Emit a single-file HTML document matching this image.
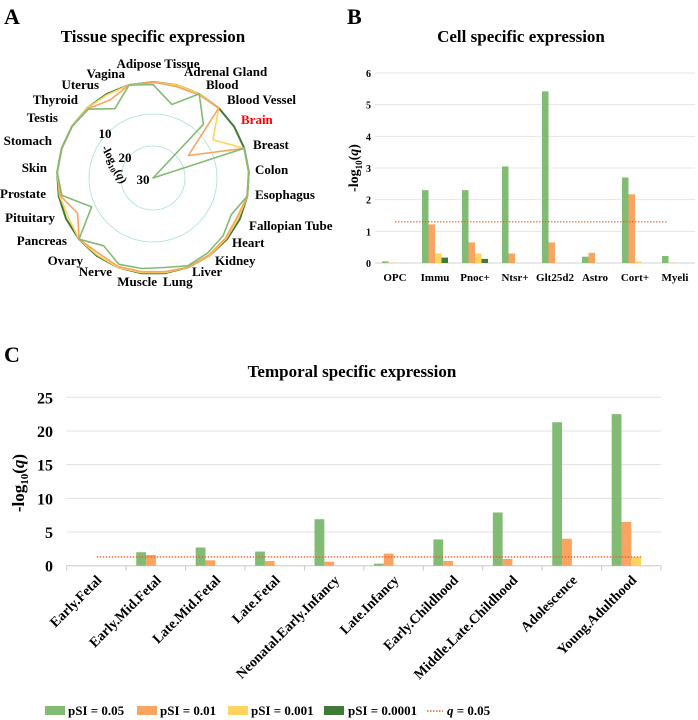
<!DOCTYPE html>
<html><head><meta charset="utf-8"><style>
html,body{margin:0;padding:0;background:#fff;}
svg{display:block;font-family:"Liberation Serif",serif;font-weight:bold;}
</style></head><body>
<svg id="fig" width="698" height="720" viewBox="0 0 698 720">
<text x="4" y="24" font-size="22">A</text>
<text x="347" y="24" font-size="22">B</text>
<text x="4" y="362" font-size="22">C</text>
<text x="153" y="42" font-size="17" text-anchor="middle">Tissue specific expression</text>
<text x="521" y="42" font-size="17" text-anchor="middle">Cell specific expression</text>
<text x="352" y="377" font-size="17" text-anchor="middle">Temporal specific expression</text>
<g id="radar"></g>
<g id="chartB"></g>
<g id="chartC"></g>
<g id="legend">
<rect x="45" y="706" width="20" height="9" fill="#82bb73"/>
<text x="68" y="715" font-size="13">pSI = 0.05</text>
<rect x="137" y="706" width="20" height="9" fill="#f9a461"/>
<text x="160" y="715" font-size="13">pSI = 0.01</text>
<rect x="228" y="706" width="20" height="9" fill="#fed45e"/>
<text x="251" y="715" font-size="13">pSI = 0.001</text>
<rect x="324" y="706" width="20" height="9" fill="#3f7a37"/>
<text x="348" y="715" font-size="13">pSI = 0.0001</text>
<line x1="427" y1="711" x2="443" y2="711" stroke="#e8632a" stroke-width="1.5" stroke-dasharray="1.5,1.5"/>
<text x="447" y="715" font-size="13"><tspan font-style="italic">q</tspan> = 0.05</text>
</g>
</svg>
<script>
var NS="http://www.w3.org/2000/svg";
function mk(parent,tag,attrs,txt){var e=document.createElementNS(NS,tag);for(var k in attrs)e.setAttribute(k,attrs[k]);if(txt!==undefined)e.textContent=txt;parent.appendChild(e);return e;}
var colors=["#82bb73","#f9a461","#fed45e","#3f7a37"];

// ---- Radar data ----
var tissues=["Adipose Tissue","Adrenal Gland","Blood","Blood Vessel","Brain","Breast","Colon","Esophagus","Fallopian Tube","Heart","Kidney","Liver","Lung","Muscle","Nerve","Ovary","Pancreas","Pituitary","Prostate","Skin","Stomach","Testis","Thyroid","Uterus","Vagina"];
var radarP05=[0.8,6.3,0,7,30,0,0,0,3,1.6,1,0.5,1.8,1.5,1,3.8,0,8.8,1,0,0,0,0.5,5.3,0];
var radarP01=[0,0.5,0.3,0,16.9,0,0,0,1,0.6,0.3,0,0.5,0.5,0.3,1,0,4,0.5,0,0,0,0.3,2.2,0];
var radarP001=[0,0,0,0,7.8,0,0,0,0.5,0.3,0,0,0.2,0.2,0,0.3,0,0.8,0.3,0,0,0,0,0.3,0];
var radarP0001=[0,0,0,0,0,0,0,0,0,0,0,0,0,0,0,0,0,0,0,0,0,0,0,0,0];
var radarTicks=[10,20,30];

(function(){
 var g=document.getElementById('radar');
 var cx=153,cy=178,R=96,vmax=30;
 function rad(v){return R*(vmax-v)/vmax;}
 function pt(i,v){var a=i*2*Math.PI/tissues.length;var r=rad(v);return [cx+r*Math.sin(a),cy-r*Math.cos(a)];}
 [20,10].forEach(function(t){var c=mk(g,'circle',{cx:cx,cy:cy,r:rad(t),fill:'none',stroke:'#a8e0d4','stroke-width':0.8});
  
  });
 var c0=mk(g,'circle',{cx:cx,cy:cy,r:R,fill:'none',stroke:'#a8e0d4','stroke-width':0.8});
 
 
 var tpos=[[105,138],[125,162],[143,184]];
 radarTicks.forEach(function(t,k){var e=mk(g,'text',{x:tpos[k][0],y:tpos[k][1],'font-size':13,'text-anchor':'middle'},String(t));
  
  });
 var at=mk(g,'text',{x:0,y:0,'font-size':12,'text-anchor':'middle',transform:'translate(111,166) rotate(62)'},'-log');
 mk(at,'tspan',{'font-size':8,dy:3},'10');
 mk(at,'tspan',{dy:-3},'(');mk(at,'tspan',{'font-style':'italic'},'q');mk(at,'tspan',{},')');
 
 
 var series=[radarP0001,radarP001,radarP01,radarP05];var sc=[colors[3],colors[2],colors[1],colors[0]];
 var names=['radar-series-pSI-00001','radar-series-pSI-0001','radar-series-pSI-001','radar-series-pSI-005'];
 series.forEach(function(s,k){var d=s.map(function(v,i){var p=pt(i,v);return p[0].toFixed(1)+','+p[1].toFixed(1);}).join(' ');
  var pl=mk(g,'polygon',{points:d,fill:'none',stroke:sc[k],'stroke-width':k==0?2:1.6,'stroke-linejoin':'round'});
  
  });
 // label layout (x, baseline, anchor)
 var labelLayout=[[158,68,'middle'],[184,76,'start'],[206,89,'start'],[227,104,'start'],[241,124,'start'],[253,149,'start'],[255,174,'start'],[255,199,'start'],[249,230,'start'],[232,247,'start'],[215,265,'start'],[192,276,'start'],[163,286,'start'],[157,286,'end'],[112,276,'end'],[83,265,'end'],[67,245,'end'],[55,222,'end'],[46,198,'end'],[47,172,'end'],[52,145,'end'],[58,122,'end'],[78,104,'end'],[99,89,'end'],[125,78,'end']];
 tissues.forEach(function(t,i){var L=labelLayout[i];
  var e=mk(g,'text',{x:L[0],y:L[1],'font-size':13,'text-anchor':L[2],fill:t=='Brain'?'#ff0000':'#000'},t);
  
  });
})();

// ---- Chart B data ----
var cellCats=["OPC","Immu","Pnoc+","Ntsr+","Glt25d2","Astro","Cort+","Myeli"];
var cellP05=[0.05,2.3,2.3,3.05,5.42,0.2,2.7,0.22];
var cellP01=[0.01,1.22,0.65,0.3,0.65,0.32,2.17,0.01];
var cellP001=[0,0.3,0.3,0,0,0,0.05,0];
var cellP0001=[0,0.17,0.13,0,0,0,0,0];
var cellTicks=[0,1,2,3,4,5,6];
var cellThreshold=1.3;

(function(){
 var g=document.getElementById('chartB');
 var x0=375,w=320,y0=263,ymax=6,ph=190;
 function Y(v){return y0-v/ymax*ph;}
 var cw=w/cellCats.length,bw=6.5;
 cellTicks.forEach(function(t){var l=mk(g,'line',{x1:x0,x2:x0+w,y1:Y(t),y2:Y(t),stroke:t==0?'#d0d0d0':'#e4e4e4','stroke-width':1});
  
  
  var e=mk(g,'text',{x:371,y:Y(t)+4,'font-size':10,'text-anchor':'end'},String(t));
  
  });
 var series=[cellP05,cellP01,cellP001,cellP0001];
 series.forEach(function(s,k){s.forEach(function(v,i){if(v<=0)return;var cx=x0+cw*(i+0.5);var x=cx-2*bw+k*bw;
  var r=mk(g,'rect',{x:x,y:Y(v),width:bw,height:y0-Y(v),fill:colors[k]});
  
  });});
 cellCats.forEach(function(c,i){var e=mk(g,'text',{x:x0+cw*(i+0.5),y:281,'font-size':11,'text-anchor':'middle'},c);
  
  });
 var q=mk(g,'line',{x1:x0+20,x2:x0+w-27,y1:Y(cellThreshold),y2:Y(cellThreshold),stroke:'#e8632a','stroke-width':1.2,'stroke-dasharray':'1.5,1.5'});
 
 
 var at=mk(g,'text',{x:0,y:0,'font-size':14,'text-anchor':'middle',transform:'translate(358,168) rotate(-90)'},'-log');
 mk(at,'tspan',{'font-size':9,dy:4},'10');mk(at,'tspan',{dy:-4},'(');mk(at,'tspan',{'font-style':'italic'},'q');mk(at,'tspan',{},')');
 
 
})();

// ---- Chart C data ----
var stages=["Early.Fetal","Early.Mid.Fetal","Late.Mid.Fetal","Late.Fetal","Neonatal.Early.Infancy","Late.Infancy","Early.Childhood","Middle.Late.Childhood","Adolescence","Young.Adulthood"];
var stageP05=[0,2.0,2.7,2.1,6.9,0.3,3.9,7.9,21.3,22.5];
var stageP01=[0,1.6,0.8,0.7,0.6,1.8,0.7,1.0,4.0,6.5];
var stageP001=[0,0,0,0,0,0,0,0,0,1.3];
var stageP0001=[0,0,0,0,0,0,0,0,0,0];
var stageTicks=[0,5,10,15,20,25];
var stageThreshold=1.3;

(function(){
 var g=document.getElementById('chartC');
 var x0=66.7,w=594.3,y0=565.7,ymax=25,ph=168.4;
 function Y(v){return y0-v/ymax*ph;}
 var cw=w/stages.length,bw=9.8;
 stageTicks.forEach(function(t){var l=mk(g,'line',{x1:x0,x2:x0+w,y1:Y(t),y2:Y(t),stroke:t==0?'#c8c8c8':'#e0e0e0','stroke-width':1});
  
  
  var e=mk(g,'text',{x:53,y:Y(t)+6,'font-size':16,'text-anchor':'end'},String(t));
  
  });
 for(var i=0;i<=stages.length;i++){var tk=mk(g,'line',{x1:x0+cw*i,x2:x0+cw*i,y1:y0,y2:y0+5,stroke:'#c8c8c8','stroke-width':1});
  
  }
 var series=[stageP05,stageP01,stageP001,stageP0001];
 series.forEach(function(s,k){s.forEach(function(v,i){if(v<=0)return;var cx=x0+cw*(i+0.5);var x=cx-2*bw+k*bw;
  var r=mk(g,'rect',{x:x,y:Y(v),width:bw,height:y0-Y(v),fill:colors[k]});
  
  });});
 stages.forEach(function(c,i){var x=x0+cw*(i+0.5)+6,y=581;
  var e=mk(g,'text',{x:0,y:0,'font-size':14,'text-anchor':'end',transform:'translate('+x+','+y+') rotate(-45)'},c);
  
  });
 var q=mk(g,'line',{x1:96.7,x2:641,y1:Y(stageThreshold),y2:Y(stageThreshold),stroke:'#e8632a','stroke-width':1.3,'stroke-dasharray':'1.5,1.5'});
 
 
 var at=mk(g,'text',{x:0,y:0,'font-size':17,'text-anchor':'middle',transform:'translate(24,483) rotate(-90)'},'-log');
 mk(at,'tspan',{'font-size':11,dy:4},'10');mk(at,'tspan',{dy:-4},'(');mk(at,'tspan',{'font-style':'italic'},'q');mk(at,'tspan',{},')');
 
 
})();
</script>
</body></html>
